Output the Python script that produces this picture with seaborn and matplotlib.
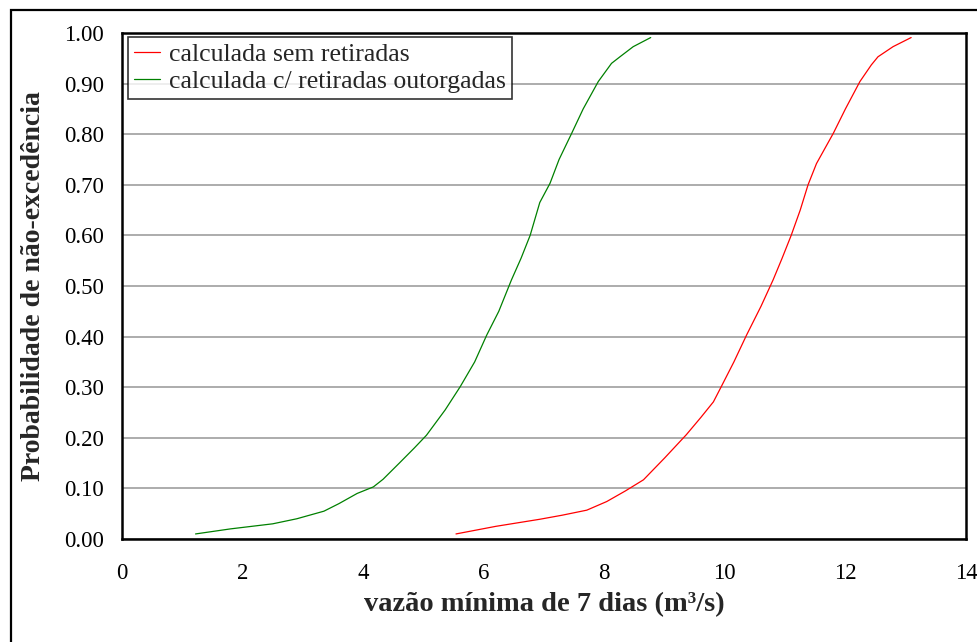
import matplotlib
matplotlib.use("Agg")
import matplotlib.pyplot as plt
import seaborn as sns
import pandas as pd
from matplotlib.patches import Rectangle

# ---- data ----
green_x = [1.22, 1.8, 2.5, 2.9, 3.35, 3.6, 3.9, 4.17, 4.33, 4.6, 4.85, 5.05, 5.36, 5.61,
           5.85, 6.05, 6.25, 6.46, 6.62, 6.77, 6.93, 7.10, 7.25, 7.46, 7.65, 7.90, 8.12,
           8.26, 8.48, 8.77]
green_y = [0.01, 0.02, 0.03, 0.04, 0.055, 0.07, 0.09, 0.103, 0.118, 0.15, 0.18, 0.205,
           0.255, 0.301, 0.35, 0.403, 0.45, 0.512, 0.555, 0.60, 0.665, 0.703, 0.75, 0.802,
           0.85, 0.904, 0.94, 0.953, 0.973, 0.991]
red_x = [5.54, 6.2, 6.93, 7.3, 7.71, 8.04, 8.35, 8.65, 9.0, 9.36, 9.6, 9.81, 9.94, 10.15,
         10.36, 10.6, 10.80, 10.95, 11.10, 11.25, 11.38, 11.52, 11.80, 12.0, 12.24, 12.43,
         12.54, 12.79, 13.09]
red_y = [0.01, 0.025, 0.039, 0.047, 0.057, 0.074, 0.095, 0.117, 0.16, 0.206, 0.24, 0.271,
         0.301, 0.35, 0.403, 0.46, 0.512, 0.555, 0.60, 0.65, 0.70, 0.742, 0.802, 0.85,
         0.904, 0.937, 0.953, 0.973, 0.991]
series_names = ["calculada sem retiradas", "calculada c/ retiradas outorgadas"]
x_ticks = [0, 2, 4, 6, 8, 10, 12, 14]
y_ticks = [0.0, 0.1, 0.2, 0.3, 0.4, 0.5, 0.6, 0.7, 0.8, 0.9, 1.0]
x_label = "vazão mínima de 7 dias (m³/s)"
y_label = "Probabilidade de não-excedência"

df = pd.concat([
    pd.DataFrame({"x": red_x, "y": red_y, "serie": series_names[0]}),
    pd.DataFrame({"x": green_x, "y": green_y, "serie": series_names[1]}),
], ignore_index=True)

sns.set_theme(style="white")
plt.rcParams["font.family"] = ["Liberation Serif", "DejaVu Serif"]

fig = plt.figure(figsize=(9.77, 6.42), dpi=100)
ax = fig.add_axes([122/977, 1 - 539/642, (966-122)/977, (539-33)/642])

sns.lineplot(data=df, x="x", y="y", hue="serie", sort=False, estimator=None,
             palette={series_names[0]: "#FF0000", series_names[1]: "#008000"},
             linewidth=0.9, ax=ax, legend=True)

ax.set_xlim(0, 14)
ax.set_ylim(0, 1.0)
ax.set_xticks(x_ticks)
ax.set_yticks(y_ticks)
ax.set_yticklabels([f"{v:.2f}" for v in y_ticks])
ax.yaxis.grid(True, color="#A6A6A6", linewidth=1.3)
ax.xaxis.grid(False)
ax.set_axisbelow(True)
for s in ax.spines.values():
    s.set_color("black")
    s.set_linewidth(1.8)
ax.tick_params(axis="both", direction="out", length=5, width=1, color="black",
               labelsize=16.5, labelcolor="black")
ax.tick_params(axis="y", pad=8)
ax.tick_params(axis="x", pad=12)
ax.set_xlabel(x_label, fontsize=20.5, fontweight="bold", labelpad=6)
ax.set_ylabel(y_label, fontsize=20, fontweight="bold", labelpad=13)

leg = ax.legend(loc="upper left", bbox_to_anchor=(0.007, 0.992), fontsize=18.5,
                frameon=True, fancybox=False, handlelength=1.0, handletextpad=0.35,
                borderpad=0.25, labelspacing=0.12, borderaxespad=0)
leg.get_frame().set_edgecolor("black")
leg.get_frame().set_linewidth(1.2)
leg.set_title(None)

# outer chart border (clipped at right/bottom like the reference)
fig.patches.append(Rectangle((11/977, -0.05), 1.1, 1 - 10/642 + 0.05,
                             transform=fig.transFigure, fill=False,
                             edgecolor="black", linewidth=1.6, figure=fig))

fig.savefig("out.png", dpi=100)
